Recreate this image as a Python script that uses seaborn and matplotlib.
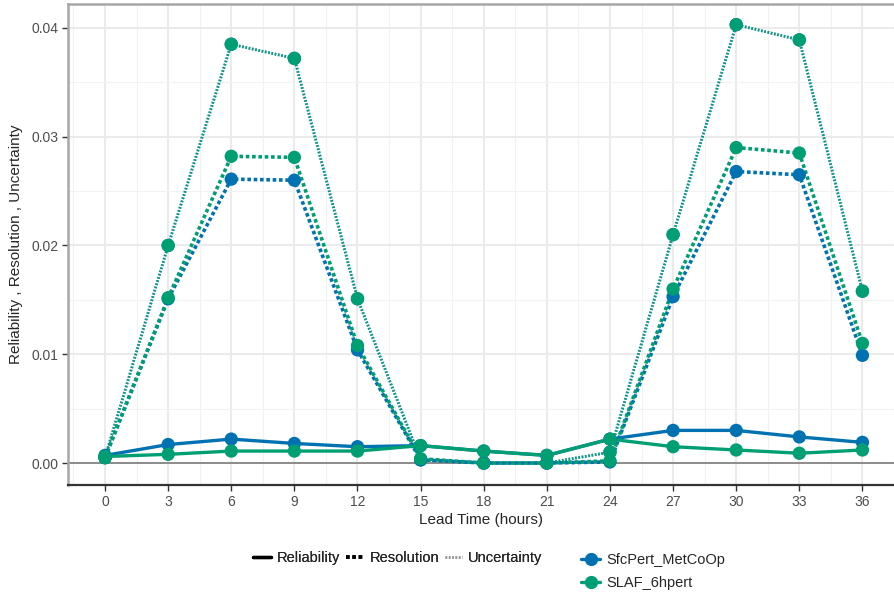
import matplotlib
matplotlib.use("Agg")
import matplotlib.pyplot as plt
from matplotlib.lines import Line2D
import numpy as np
import pandas as pd
import seaborn as sns

# Brier score decomposition by lead time for two ensemble configurations
lead_time = [0, 3, 6, 9, 12, 15, 18, 21, 24, 27, 30, 33, 36]

sfc_reliability = [0.0007, 0.0017, 0.0022, 0.0018, 0.0015, 0.0016, 0.0011, 0.0007, 0.0022, 0.0030, 0.0030, 0.0024, 0.0019]
sfc_resolution = [0.0005, 0.0151, 0.0261, 0.0260, 0.0104, 0.0003, 0.0000, 0.0000, 0.0001, 0.0153, 0.0268, 0.0265, 0.0099]
sfc_uncertainty = [0.0005, 0.0200, 0.0385, 0.0372, 0.0151, 0.0003, 0.0000, 0.0000, 0.0010, 0.0210, 0.0403, 0.0389, 0.0158]

slaf_reliability = [0.0006, 0.0008, 0.0011, 0.0011, 0.0011, 0.0016, 0.0011, 0.0007, 0.0022, 0.0015, 0.0012, 0.0009, 0.0012]
slaf_resolution = [0.0005, 0.0152, 0.0282, 0.0281, 0.0108, 0.0004, 0.0000, 0.0000, 0.0002, 0.0160, 0.0290, 0.0285, 0.0110]
slaf_uncertainty = [0.0005, 0.0200, 0.0385, 0.0372, 0.0151, 0.0003, 0.0000, 0.0000, 0.0010, 0.0210, 0.0403, 0.0389, 0.0158]

models = ["SfcPert_MetCoOp", "SLAF_6hpert"]
metrics = ["Reliability", "Resolution", "Uncertainty"]
model_colors = {"SfcPert_MetCoOp": "#0072B2", "SLAF_6hpert": "#009E73"}

series = {
    ("SfcPert_MetCoOp", "Reliability"): sfc_reliability,
    ("SfcPert_MetCoOp", "Resolution"): sfc_resolution,
    ("SfcPert_MetCoOp", "Uncertainty"): sfc_uncertainty,
    ("SLAF_6hpert", "Reliability"): slaf_reliability,
    ("SLAF_6hpert", "Resolution"): slaf_resolution,
    ("SLAF_6hpert", "Uncertainty"): slaf_uncertainty,
}

rows = []
for (model, metric), vals in series.items():
    for t, v in zip(lead_time, vals):
        rows.append({"lead_time": t, "value": v, "model": model, "component": metric})
df = pd.DataFrame(rows)

sns.set_theme(style="whitegrid")
plt.rcParams["font.family"] = ["Liberation Sans", "DejaVu Sans"]

fig = plt.figure(figsize=(8.94, 5.95), dpi=100)
ax = fig.add_axes([68 / 894, 110 / 595, 1 - 68 / 894, 481 / 595])
ax.set_facecolor("white")

line_styles = {
    "Reliability": dict(lw=2.4, dashes=None, alpha=1.0),
    "Resolution": dict(lw=2.6, dashes=(1.0, 0.75), alpha=1.0),
    "Uncertainty": dict(lw=2.0, dashes=(0.6, 0.6), alpha=0.8),
}

for metric in ["Uncertainty", "Resolution", "Reliability"]:
    for model in models:
        sub = df[(df.model == model) & (df.component == metric)]
        st = line_styles[metric]
        sns.lineplot(data=sub, x="lead_time", y="value", ax=ax,
                     color=model_colors[model], lw=st["lw"], alpha=st["alpha"],
                     legend=False, zorder=3)
        line = ax.lines[-1]
        if st["dashes"] is not None:
            line.set_dashes(st["dashes"])
        ax.scatter(sub.lead_time, sub.value, s=92, color=model_colors[model],
                   edgecolor="none", zorder=4)

ax.axhline(0, color="#8c8c8c", lw=1.4, zorder=2)

ax.set_xlim(-1.76, 37.5)
ax.set_ylim(-0.00202, 0.0422)
ax.set_xticks(lead_time)
ax.set_xticks(np.arange(-1.5, 38, 3), minor=True)
ax.set_yticks([0, 0.01, 0.02, 0.03, 0.04])
ax.set_yticks([0.005, 0.015, 0.025, 0.035], minor=True)
ax.set_yticklabels(["0.00", "0.01", "0.02", "0.03", "0.04"])

ax.grid(which="major", color="#ebebeb", lw=1.5)
ax.grid(which="minor", color="#f2f2f2", lw=0.8)
ax.set_axisbelow(True)

ax.tick_params(axis="both", which="major", labelsize=10, labelcolor="#4d4d4d",
               length=4, width=1.0, color="#333333", pad=3, bottom=True, left=True)
ax.tick_params(axis="both", which="minor", length=0)

for side in ["top", "left"]:
    ax.spines[side].set_color("#a6a6a6")
    ax.spines[side].set_linewidth(1.8)
ax.spines["bottom"].set_color("#333333")
ax.spines["bottom"].set_linewidth(1.6)
ax.spines["right"].set_visible(False)

ax.set_xlabel("Lead Time (hours)", fontsize=11, labelpad=3)
ax.set_ylabel("Reliability , Resolution , Uncertainty", fontsize=11, labelpad=6)

# Component legend (line types)
comp_handles = [
    Line2D([], [], color="black", lw=2.4),
    Line2D([], [], color="black", lw=2.6, dashes=(1.0, 0.75)),
    Line2D([], [], color="#9a9a9a", lw=2.0, dashes=(0.6, 0.6)),
]
leg1 = fig.legend(comp_handles, metrics, loc="center", bbox_to_anchor=(398 / 894, 1 - 558 / 595),
                  ncol=3, frameon=False, fontsize=10.5, handlelength=1.2, handletextpad=0.4,
                  columnspacing=0.4)

# Model legend (colours)
model_handles = [Line2D([], [], color=model_colors[m], lw=2.4, marker="o", markersize=8.5)
                 for m in models]
leg2 = fig.legend(model_handles, models, loc="upper left", bbox_to_anchor=(568 / 894, 1 - 540 / 595),
                  ncol=1, frameon=False, fontsize=10.5, handlelength=1.3, handletextpad=0.4,
                  labelspacing=0.6)
fig.add_artist(leg1)

fig.savefig("out.png", dpi=100, facecolor="white")
